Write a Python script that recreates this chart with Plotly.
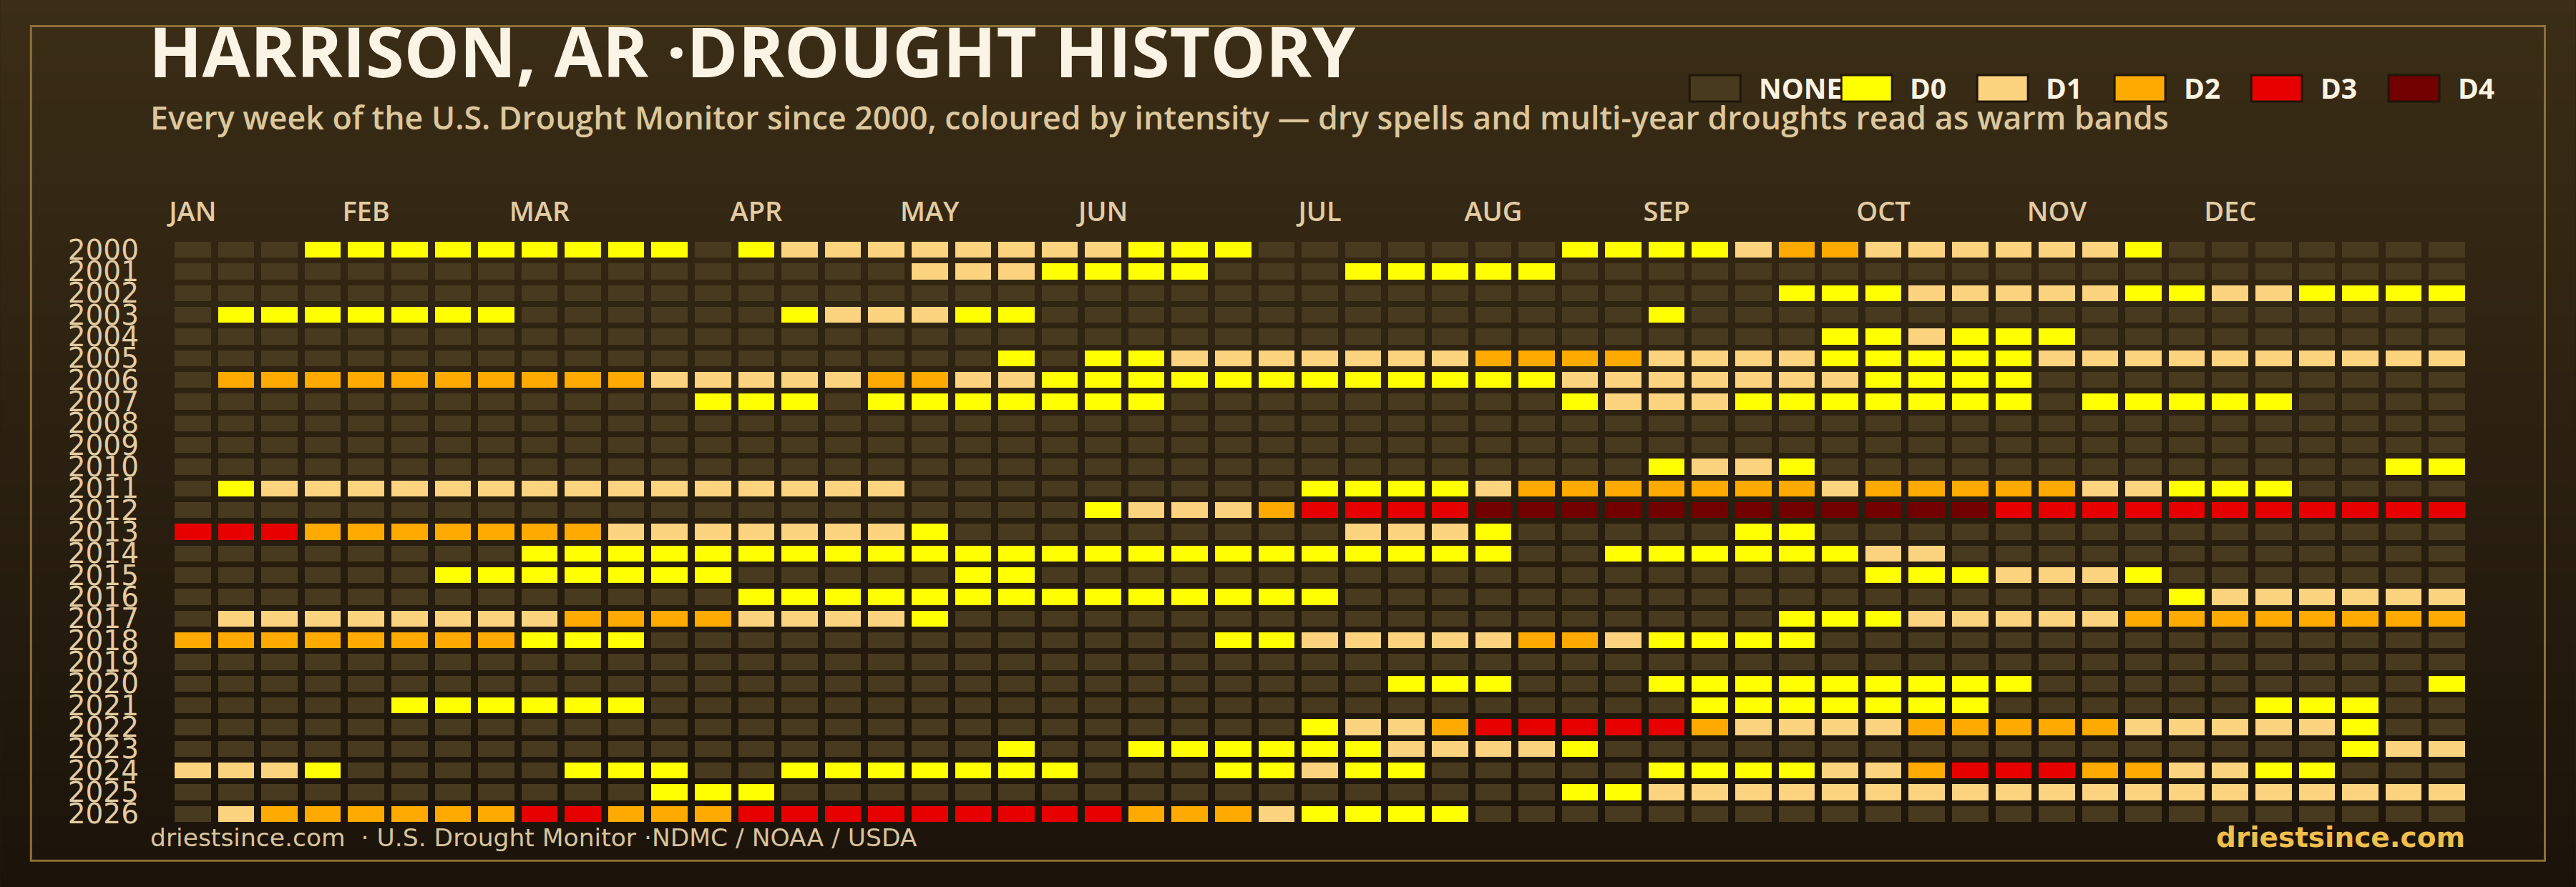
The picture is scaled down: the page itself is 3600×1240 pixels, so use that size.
import plotly.graph_objects as go

# ---------------- data ----------------
YEARS = list(range(2000, 2027))
MONTHS = ["JAN", "FEB", "MAR", "APR", "MAY", "JUN", "JUL", "AUG", "SEP", "OCT", "NOV", "DEC"]
MONTH_WEEKS = [0, 4, 8, 13, 17, 21, 26, 30, 34, 39, 43, 47]
LEVELS = ["NONE", "D0", "D1", "D2", "D3", "D4"]
LEVEL_COLORS = ["#483A1F", "#FFFF00", "#FCD37F", "#FFAA00", "#E60000", "#730000"]

# weekly drought class per year: "." none, digit = D-level (groups of 5 weeks)
Y2000 = "...00 00000 00.01 11111 11000 ..... ..000 01221 11111 0.... ..."
Y2001 = "..... ..... ..... ..111 0000. ..000 00... ..... ..... ..... ..."
Y2002 = "..... ..... ..... ..... ..... ..... ..... ..000 11111 00110 000"
Y2003 = ".0000 000.. ....0 11100 ..... ..... ....0 ..... ..... ..... ..."
Y2004 = "..... ..... ..... ..... ..... ..... ..... ...00 1000. ..... ..."
Y2005 = "..... ..... ..... ....0 .0011 11111 22221 11100 00011 11111 111"
Y2006 = ".2222 22222 21111 12211 00000 00000 00111 11110 000.. ..... ..."
Y2007 = "..... ..... ..000 .0000 000.. ..... ..011 10000 000.0 0000. ..."
Y2008 = "..... ..... ..... ..... ..... ..... ..... ..... ..... ..... ..."
Y2009 = "..... ..... ..... ..... ..... ..... ..... ..... ..... ..... ..."
Y2010 = "..... ..... ..... ..... ..... ..... ....0 110.. ..... ..... .00"
Y2011 = ".0111 11111 11111 11... ..... .0000 12222 22212 22221 1000. ..."
Y2012 = "..... ..... ..... ..... .0111 23333 44444 44444 44333 33333 333"
Y2013 = "33322 22222 11111 110.. ..... ..111 0.... .00.. ..... ..... ..."
Y2014 = "..... ...00 00000 00000 00000 00000 0..00 00001 1.... ..... ..."
Y2015 = "..... .0000 000.. ...00 ..... ..... ..... ....0 00111 0.... ..."
Y2016 = "..... ..... ...00 00000 00000 00... ..... ..... ..... .0111 111"
Y2017 = ".1111 11112 22211 110.. ..... ..... ..... ..000 11111 22222 222"
Y2018 = "22222 22200 0.... ..... ....0 01111 12210 000.. ..... ..... ..."
Y2019 = "..... ..... ..... ..... ..... ..... ..... ..... ..... ..... ..."
Y2020 = "..... ..... ..... ..... ..... ...00 0...0 00000 000.. ..... ..0"
Y2021 = "..... 00000 0.... ..... ..... ..... ..... 00000 00... ...00 0.."
Y2022 = "..... ..... ..... ..... ..... .0112 33333 21111 22222 11111 0.."
Y2023 = "..... ..... ..... ....0 ..000 00011 110.. ..... ..... ..... 011"
Y2024 = "1110. ....0 00..0 00000 0...0 0100. ....0 00011 23332 21100 ..."
Y2025 = "..... ..... .000. ..... ..... ..... ..001 11111 11111 11111 111"
Y2026 = ".1222 22233 22233 33333 33222 10000 ..... ..... ..... ..... ..."

ROWS = [Y2000, Y2001, Y2002, Y2003, Y2004, Y2005, Y2006, Y2007, Y2008, Y2009,
        Y2010, Y2011, Y2012, Y2013, Y2014, Y2015, Y2016, Y2017, Y2018, Y2019,
        Y2020, Y2021, Y2022, Y2023, Y2024, Y2025, Y2026]

CODE = {".": 0, "0": 1, "1": 2, "2": 3, "3": 4, "4": 5}
z = []
for r in ROWS:
    s = r.replace(" ", "")
    assert len(s) == 53, (r, len(s))
    z.append([CODE[c] for c in s])
WEEKS = list(range(53))
text = [[LEVELS[v] for v in row] for row in z]

# ---------------- geometry ----------------
W, H = 3600, 1240
ML, MR, MT, MB = 238.75, 149.5, 334.4, 87.2
PW, PH = W - ML - MR, H - MT - MB


def px(x):
    return (x - ML) / PW


def py(y):
    return 1 - (y - MT) / PH


n = len(LEVELS)
colorscale = []
for i, c in enumerate(LEVEL_COLORS):
    colorscale.append([i / n, c])
    colorscale.append([(i + 1) / n, c])

fig = go.Figure(go.Heatmap(
    z=z, x=WEEKS, y=YEARS, text=text,
    zmin=-0.5, zmax=n - 0.5, colorscale=colorscale, showscale=False,
    xgap=10, ygap=8,
    hovertemplate="%{y} week %{x}: %{text}<extra></extra>",
))

shapes = []
# vertical background gradient
top = (59, 45, 22)
bot = (27, 19, 10)
nb = 62
for i in range(nb):
    t = i / (nb - 1)
    col = "rgb(%d,%d,%d)" % tuple(round(a + (b - a) * t) for a, b in zip(top, bot))
    y0 = i * H / nb
    y1 = (i + 1) * H / nb + 1
    shapes.append(dict(type="rect", xref="paper", yref="paper", layer="below",
                       x0=px(0), x1=px(W), y0=py(y0), y1=py(y1),
                       fillcolor=col, line=dict(width=0)))
# frame
shapes.append(dict(type="rect", xref="paper", yref="paper", layer="below",
                   x0=px(43), x1=px(3557), y0=py(37), y1=py(1203),
                   fillcolor="rgba(0,0,0,0)", line=dict(color="#8C7036", width=3)))

annotations = []
# legend
sw_x = [2360, 2572, 2762, 2954, 3145, 3337]
tx_x = [2456, 2667, 2857, 3050, 3241, 3433]
for lab, col, sx, tx in zip(LEVELS, LEVEL_COLORS, sw_x, tx_x):
    shapes.append(dict(type="rect", xref="paper", yref="paper", layer="above",
                       x0=px(sx + 1.5), x1=px(sx + 72.5), y0=py(105.5), y1=py(142.5),
                       fillcolor=col, line=dict(color="#1F160A", width=3)))
    annotations.append(dict(xref="paper", yref="paper", x=px(tx), y=py(123),
                            xanchor="left", yanchor="middle", showarrow=False, text=lab,
                            font=dict(family="Open Sans", size=39, weight=700, color="#FBF3E2")))

annotations += [
    dict(xref="paper", yref="paper", x=px(206), y=py(71), xanchor="left", yanchor="middle",
         showarrow=False, text="HARRISON, AR ·DROUGHT HISTORY",
         font=dict(family="Open Sans", size=97.5, weight=700, color="#FBF4E4")),
    dict(xref="paper", yref="paper", x=px(208), y=py(164), xanchor="left", yanchor="middle",
         showarrow=False,
         text="Every week of the U.S. Drought Monitor since 2000, coloured by intensity \u2014 dry spells and multi-year droughts read as warm bands",
         font=dict(family="Open Sans", size=44.7, weight=600, color="#DCC79D")),
    dict(xref="paper", yref="paper", x=px(208), y=py(1171), xanchor="left", yanchor="middle",
         showarrow=False, text="driestsince.com  · U.S. Drought Monitor ·NDMC / NOAA / USDA",
         font=dict(family="DejaVu Sans", size=34.5, color="#D8C49C")),
    dict(xref="paper", yref="paper", x=px(3447), y=py(1170), xanchor="right", yanchor="middle",
         showarrow=False, text="driestsince.com",
         font=dict(family="DejaVu Sans", size=39, weight=700, color="#F0BF4C")),
]

fig.update_layout(
    width=W, height=H,
    margin=dict(l=ML, r=MR, t=MT, b=MB, pad=0),
    paper_bgcolor="#2A1F10", plot_bgcolor="rgba(0,0,0,0)",
    shapes=shapes, annotations=annotations, showlegend=False,
    xaxis=dict(range=[-0.5, 52.5], side="top", tickmode="array", tickvals=MONTH_WEEKS,
               ticktext=MONTHS, showgrid=False, zeroline=False, showline=False, ticks="",
               ticklabelstandoff=16, fixedrange=True,
               tickfont=dict(family="Open Sans", size=38, weight=600, color="#E2CCA3")),
    yaxis=dict(range=[2026.5, 1999.5], tickmode="array", tickvals=YEARS,
               ticktext=[str(y) for y in YEARS], showgrid=False, zeroline=False,
               showline=False, ticks="", ticklabelstandoff=44, fixedrange=True,
               tickfont=dict(family="DejaVu Sans", size=39, color="#E2CCA3")),
)

fig.write_html("out.html")
